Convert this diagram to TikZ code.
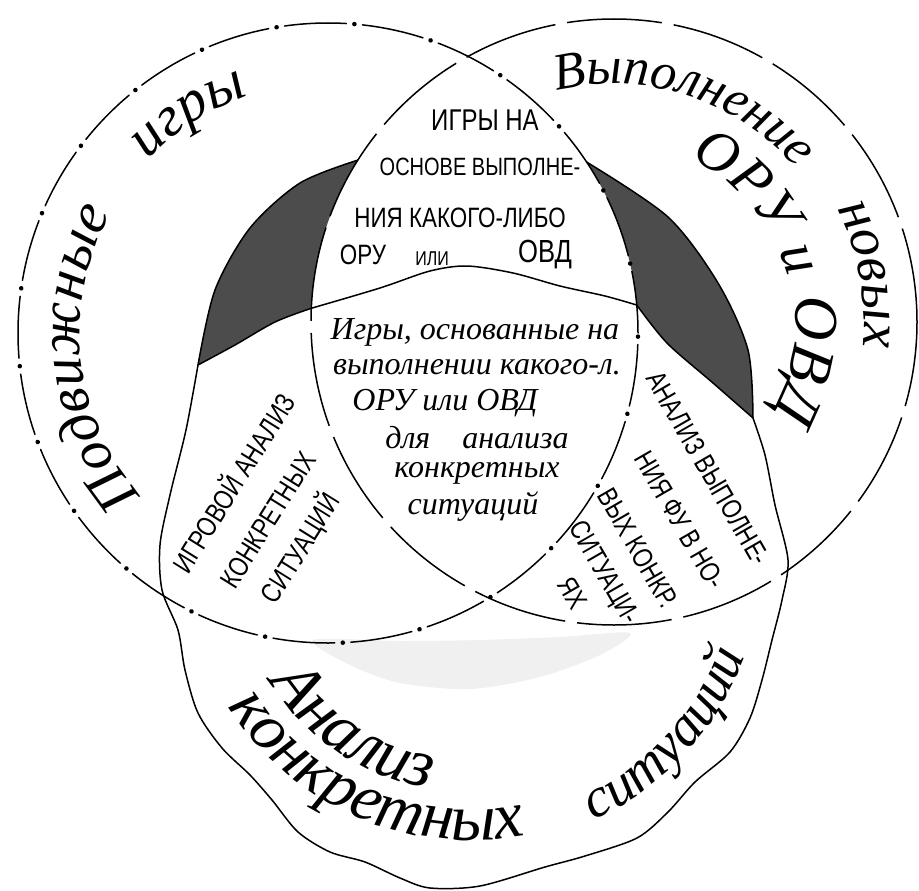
\documentclass[tikz,border=0pt]{standalone}
\usepackage{fontspec}
\setmainfont{Liberation Serif}
\newfontfamily\blockfont{Liberation Sans}[FakeStretch=0.8]
\usetikzlibrary{decorations.text}

\begin{document}
\begin{tikzpicture}[x=1pt,y=1pt,
  lcirc/.style={line width=1.5pt,dash pattern=on 62pt off 8pt on 0.1pt off 8pt,line cap=round},
  ldots/.style={line width=4.5pt,dash pattern=on 0.1pt off 78pt,dash phase=8.1pt,line cap=round},
  rcirc/.style={line width=1.5pt,dash pattern=on 95pt off 12pt},
  outline/.style={line width=1.5pt},
  lens/.style={fill=black!70},
  hand/.style={font=\itshape\fontsize{32}{34}\selectfont,inner sep=0pt},
  blk/.style={font=\blockfont\fontsize{28}{30}\selectfont,inner sep=0pt}]
\useasboundingbox (0,0) rectangle (919,-891);

\coordinate (Cl) at (328,-333);
\coordinate (Cr) at (614,-322);
\coordinate (Cb) at (470,-555);
\coordinate (J1) at ([shift={(Cr)}]177.4:303);
\coordinate (T1) at ([shift={(Cr)}]147.7:303);
\coordinate (J2) at ([shift={(Cl)}]5.18:310);
\coordinate (T2) at ([shift={(Cl)}]33.48:310);
\coordinate (B1) at (198,-365);
\coordinate (B2) at (753,-418);

% light patch under the circles
\fill[black!6] plot[smooth cycle] coordinates {(313,-640) (400,-641) (480,-640) (560,-637) (630,-633) (600,-655) (540,-677) (470,-689) (400,-683) (350,-665)};

% dark lenses
\fill[lens] (J1) arc[start angle=177.4,end angle=147.7,radius=303]
  -- plot[smooth] coordinates {(T1) (300,-183) (250,-228) (215,-290) (B1)}
  -- plot[smooth] coordinates {(B1) (235,-345) (275,-322) (J1)} -- cycle;
\fill[lens] (T2) arc[start angle=33.48,end angle=5.18,radius=310]
  -- plot[smooth] coordinates {(J2) (667,-343) (713,-383) (B2)}
  -- plot[smooth] coordinates {(B2) (748,-350) (718,-283) (668,-217) (T2)} -- cycle;
\draw[outline] plot[smooth] coordinates {(T1) (300,-183) (250,-228) (215,-290) (B1)};
\draw[outline] plot[smooth] coordinates {(B2) (748,-350) (718,-283) (668,-217) (T2)};

% wavy bottom set
\draw[outline] plot[smooth] coordinates {(J1) (380,-288) (430,-271) (467,-266) (513,-273) (560,-286) (605,-296) (J2)}
  -- plot[smooth] coordinates {(J2) (667,-343) (713,-383) (B2)}
  -- plot[smooth] coordinates {(B2) (765,-455) (775,-505) (788,-560) (782,-600) (772,-640) (762,-680) (750,-718) (730,-752) (695,-782) (668,-812) (637,-838) (585,-856) (545,-867) (480,-886) (430,-888) (400,-878) (365,-862) (330,-852) (298,-832) (272,-800) (250,-775) (222,-748) (198,-713) (185,-670) (178,-630) (162,-590) (160,-545) (170,-495) (186,-430) (B1)}
  -- plot[smooth] coordinates {(B1) (235,-345) (275,-322) (J1)} -- cycle;

% the two circles
\draw[lcirc] (Cl) circle[radius=310];
\draw[ldots] (Cl) circle[radius=310];
\draw[rcirc] (Cr) circle[radius=303];

% titles along the rims
\path[decorate,decoration={text along path,text={|\itshape\fontsize{58}{60}\selectfont|Подвижные}}]
  ([shift={(Cl)}]221:248) arc[start angle=221,end angle=100,radius=248];
\path[decorate,decoration={text along path,text={|\itshape\fontsize{58}{60}\selectfont|игры}}]
  ([shift={(Cl)}]136:250) arc[start angle=136,end angle=40,radius=250];
\path[decorate,decoration={text along path,text={|\itshape\fontsize{52}{54}\selectfont|Выполнение}}]
  ([shift={(Cr)}]104:238) arc[start angle=104,end angle=-60,radius=238];
\path[decorate,decoration={text along path,text={|\itshape\fontsize{56}{58}\selectfont|новых}}]
  ([shift={(Cr)}]27:250) arc[start angle=27,end angle=-90,radius=250];
\path[decorate,decoration={text along path,text={|\itshape\fontsize{58}{60}\selectfont|ОРУ и}}]
  ([shift={(Cr)}]65:180) arc[start angle=65,end angle=-60,radius=180];
\path[decorate,decoration={text along path,text={|\itshape\fontsize{62}{64}\selectfont|ОВД}}]
  ([shift={(Cr)}]8:182) arc[start angle=8,end angle=-90,radius=182];
\path[decorate,decoration={text along path,text={|\itshape\fontsize{68}{70}\selectfont|Анализ}}]
  ([shift={(Cb)}]-148:237) arc[start angle=-148,end angle=0,radius=237];
\path[decorate,decoration={text along path,text={|\itshape\fontsize{66}{68}\selectfont|конкретных}}]
  ([shift={(Cb)}]-148:285) arc[start angle=-148,end angle=0,radius=285];
\path[decorate,decoration={text along path,text={|\itshape\fontsize{56}{58}\selectfont|ситуаций}}]
  ([shift={(Cb)}]-65:293) arc[start angle=-65,end angle=40,radius=293];

% top overlap
\node[blk,font=\blockfont\fontsize{30}{32}\selectfont] (top1) at (485,-120) {ИГРЫ НА};
\node[blk,font=\blockfont\fontsize{25}{27}\selectfont] (top2) at (480,-167) {ОСНОВЕ ВЫПОЛНЕ-};
\node[blk] (top3) at (460,-218) {НИЯ КАКОГО-ЛИБО};
\node[blk] (top4) at (363,-255) {ОРУ};
\node[blk,font=\blockfont\fontsize{20}{22}\selectfont] (top5) at (432,-259) {ИЛИ};
\node[blk,font=\blockfont\fontsize{32}{34}\selectfont] (top6) at (545,-255) {ОВД};

% centre
\node[hand] (mid1) at (475,-332) {Игры, основанные на};
\node[hand] (mid2) at (477,-367) {выполнении какого-л.};
\node[hand] (mid3) at (445,-403) {ОРУ или ОВД};
\node[hand] (mid4) at (477,-438) {для\quad анализа};
\node[hand] (mid5) at (477,-473) {конкретных};
\node[hand] (mid6) at (473,-507) {ситуаций};

% lower left overlap
\node[blk,rotate=58] (lft1) at (232,-482) {ИГРОВОЙ АНАЛИЗ};
\node[blk,rotate=58] (lft2) at (268,-520) {КОНКРЕТНЫХ};
\node[blk,rotate=58] (lft3) at (300,-548) {СИТУАЦИЙ};

% lower right overlap
\node[blk,rotate=-60] (rgt1) at (708,-468) {АНАЛИЗ ВЫПОЛНЕ-};
\node[blk,rotate=-60] (rgt2) at (680,-520) {НИЯ ФУ В НО-};
\node[blk,rotate=-60] (rgt3) at (638,-548) {ВЫХ КОНКР.};
\node[blk,rotate=-60] (rgt4) at (603,-573) {СИТУАЦИ-};
\node[blk,rotate=-60] (rgt5) at (573,-593) {ЯХ};
\end{tikzpicture}
\end{document}
